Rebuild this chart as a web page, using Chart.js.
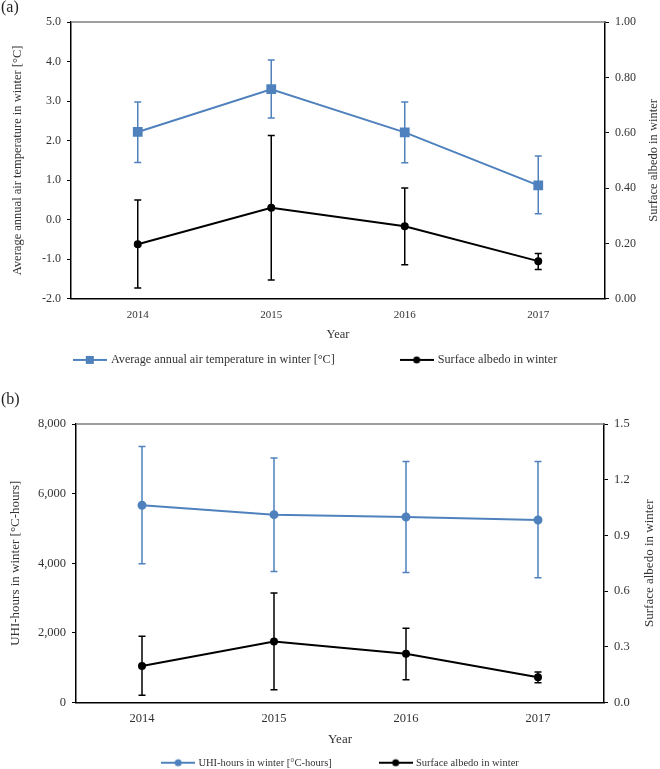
<!DOCTYPE html>
<html>
<head>
<meta charset="utf-8">
<script src="https://cdn.jsdelivr.net/npm/chart.js@4.4.0/dist/chart.umd.min.js"></script>
<style>
  body { margin: 0; background: #fff; width: 660px; height: 769px; position: relative; overflow: hidden; font-family: 'Liberation Serif', serif; }
  .panel { position: absolute; left: 0; width: 660px; }
  .tag { position: absolute; left: 1px; font-size: 16px; color: #222; }
</style>
</head>
<body>
<div class="panel" style="top:0;height:378px"><canvas id="chartA"></canvas></div>
<div class="panel" style="top:380px;height:400px"><canvas id="chartB"></canvas></div>
<div class="tag" style="top:-2px">(a)</div>
<div class="tag" style="top:390px">(b)</div>
<script>
const years = ['2014', '2015', '2016', '2017'];

// (a) average annual air temperature in winter [°C]
const tempWinter = [2.22, 3.30, 2.21, 0.87];
const tempHigh = [2.98, 4.04, 2.98, 1.61];
const tempLow = [1.45, 2.57, 1.44, 0.15];

// surface albedo in winter (same in both panels)
const albedo = [0.197, 0.329, 0.262, 0.136];
const albedoHigh = [0.357, 0.590, 0.400, 0.164];
const albedoLow = [0.039, 0.068, 0.123, 0.106];

// (b) UHI-hours in winter [°C-hours]
const uhiHours = [5666, 5396, 5330, 5243];
const uhiHigh = [7355, 7020, 6923, 6923];
const uhiLow = [3984, 3765, 3736, 3580];

const BLUE = '#4F81BD';
const TEXT = '#333333';
const SERIF = "'Liberation Serif', 'Times New Roman', serif";

// small line + marker picture for the legend
function legendMarker(color, style) {
    const c = document.createElement('canvas');
    c.width = 34; c.height = 10;
    const g = c.getContext('2d');
    g.strokeStyle = color;
    g.lineWidth = 2;
    g.beginPath(); g.moveTo(0, 5); g.lineTo(34, 5); g.stroke();
    g.fillStyle = color;
    if (style === 'rect') {
        g.fillRect(13, 1, 8, 8);
    } else {
        g.beginPath(); g.arc(17, 5, 3.5, 0, Math.PI * 2); g.fill();
    }
    return c;
}

const errorBars = {
    id: 'errorBars',
    beforeDatasetsDraw(chart) {
        const ctx = chart.ctx;
        chart.data.datasets.forEach((ds, i) => {
            if (!ds.errHigh) return;
            const meta = chart.getDatasetMeta(i);
            const scale = chart.scales[ds.yAxisID];
            ctx.save();
            ctx.strokeStyle = ds.borderColor;
            ctx.lineWidth = 1.5;
            meta.data.forEach((pt, j) => {
                const yHi = scale.getPixelForValue(ds.errHigh[j]);
                const yLo = scale.getPixelForValue(ds.errLow[j]);
                ctx.beginPath();
                ctx.moveTo(pt.x, yHi); ctx.lineTo(pt.x, yLo);
                ctx.moveTo(pt.x - 3.5, yHi); ctx.lineTo(pt.x + 3.5, yHi);
                ctx.moveTo(pt.x - 3.5, yLo); ctx.lineTo(pt.x + 3.5, yLo);
                ctx.stroke();
            });
            ctx.restore();
        });
    }
};

// top border of the plot area + right axis title reading bottom to top
const frame = {
    id: 'frame',
    afterLayout(chart, args, opts) {
        if (opts.legendShift) {
            chart.legend.left += opts.legendShift;
            chart.legend.right += opts.legendShift;
        }
    },
    afterDraw(chart, args, opts) {
        const ctx = chart.ctx;
        const a = chart.chartArea;
        ctx.save();
        ctx.strokeStyle = '#7f7f7f';
        ctx.lineWidth = 1.5;
        ctx.beginPath();
        ctx.moveTo(a.left, a.top); ctx.lineTo(a.right, a.top);
        ctx.stroke();
        ctx.translate(opts.rightTitleX, (a.top + a.bottom) / 2);
        ctx.rotate(-Math.PI / 2);
        ctx.font = opts.titleSize + 'px ' + SERIF;
        ctx.fillStyle = TEXT;
        ctx.textAlign = 'center';
        ctx.textBaseline = 'middle';
        ctx.fillText(opts.rightTitle, 0, 0);
        ctx.restore();
    }
};

function legendLabels(chart) {
    return chart.data.datasets.map((ds, i) => ({
        text: ds.label + (ds.legendGap || ''),
        pointStyle: ds.legendMarker,
        fillStyle: ds.borderColor,
        strokeStyle: ds.borderColor,
        fontColor: TEXT,
        lineWidth: 0,
        hidden: false,
        datasetIndex: i
    }));
}

function yAxis(pos, min, max, step, fmt, width, tickSize, title, titleSize, titlePad) {
    return {
        type: 'linear',
        position: pos,
        min: min,
        max: max,
        ticks: { stepSize: step, callback: fmt, color: TEXT, font: { family: SERIF, size: tickSize }, padding: 6 },
        grid: { drawOnChartArea: false, tickLength: 4, color: '#000', lineWidth: 1 },
        border: { color: '#000', width: 1.5 },
        title: title ? { display: true, text: title, color: TEXT, font: { family: SERIF, size: titleSize }, padding: titlePad } : { display: false },
        afterFit: s => { s.width = width; }
    };
}

function xAxis(tickSize, tickPad, titleSize, height) {
    return {
        type: 'category',
        offset: true,
        grid: { drawOnChartArea: false, drawTicks: false },
        border: { color: '#000', width: 1.5 },
        ticks: { color: TEXT, font: { family: SERIF, size: tickSize }, padding: tickPad },
        title: { display: true, text: 'Year', color: TEXT, font: { family: SERIF, size: titleSize }, padding: { top: 2, bottom: 0 } },
        afterFit: s => { s.height = height; }
    };
}

// ----- (a)
new Chart(document.getElementById('chartA'), {
    type: 'line',
    data: {
        labels: years,
        datasets: [{
            label: 'Average annual air temperature in winter [°C]',
            legendGap: '\u2003\u2003\u2003\u2003\u2002',
            data: tempWinter,
            errHigh: tempHigh,
            errLow: tempLow,
            yAxisID: 'y',
            borderColor: BLUE,
            backgroundColor: BLUE,
            borderWidth: 2,
            pointStyle: 'rect',
            pointRadius: 5.5,
            tension: 0,
            legendMarker: legendMarker(BLUE, 'rect')
        }, {
            label: 'Surface albedo in winter',
            data: albedo,
            errHigh: albedoHigh,
            errLow: albedoLow,
            yAxisID: 'y1',
            borderColor: '#000',
            backgroundColor: '#000',
            borderWidth: 2,
            pointRadius: 3,
            tension: 0,
            legendMarker: legendMarker('#000', 'circle')
        }]
    },
    options: {
        responsive: true,
        maintainAspectRatio: false,
        animation: false,
        layout: { padding: { top: 22, left: 0, right: 0, bottom: 2 } },
        plugins: {
            legend: {
                position: 'bottom',
                labels: { usePointStyle: true, pointStyleWidth: 30, padding: 12, color: TEXT, font: { family: SERIF, size: 12.2 }, generateLabels: legendLabels }
            },
            tooltip: { enabled: false },
            frame: { rightTitle: 'Surface albedo in winter', rightTitleX: 654, titleSize: 12.5, legendShift: -14 }
        },
        scales: {
            x: xAxis(11, 10, 12.5, 43),
            y: yAxis('left', -2, 5, 1, v => v.toFixed(1), 71, 12, 'Average annual air temperature in winter [°C]', 12.5, { top: 10, bottom: 2 }),
            y1: yAxis('right', 0, 1, 0.2, v => v.toFixed(2), 55, 12, null)
        }
    },
    plugins: [errorBars, frame]
});

// ----- (b)
new Chart(document.getElementById('chartB'), {
    type: 'line',
    data: {
        labels: years,
        datasets: [{
            label: 'UHI-hours in winter [°C-hours]',
            legendGap: '\u2003\u2003\u2003\u2002\u2009',
            data: uhiHours,
            errHigh: uhiHigh,
            errLow: uhiLow,
            yAxisID: 'y',
            borderColor: BLUE,
            backgroundColor: BLUE,
            borderWidth: 2,
            pointRadius: 3.5,
            tension: 0,
            legendMarker: legendMarker(BLUE, 'circle')
        }, {
            label: 'Surface albedo in winter',
            data: albedo,
            errHigh: albedoHigh,
            errLow: albedoLow,
            yAxisID: 'y1',
            borderColor: '#000',
            backgroundColor: '#000',
            borderWidth: 2,
            pointRadius: 3,
            tension: 0,
            legendMarker: legendMarker('#000', 'circle')
        }]
    },
    options: {
        responsive: true,
        maintainAspectRatio: false,
        animation: false,
        layout: { padding: { top: 44, left: 0, right: 0, bottom: 2 } },
        plugins: {
            legend: {
                position: 'bottom',
                labels: { usePointStyle: true, pointStyleWidth: 30, padding: 10, color: TEXT, font: { family: SERIF, size: 10.5 }, generateLabels: legendLabels }
            },
            tooltip: { enabled: false },
            frame: { rightTitle: 'Surface albedo in winter', rightTitleX: 650, titleSize: 13, legendShift: 11 }
        },
        scales: {
            x: xAxis(12.5, 9, 13, 45),
            y: yAxis('left', 0, 8000, 2000, v => v.toLocaleString('en-US'), 76, 12.5, 'UHI-hours in winter [°C-hours]', 13, { top: 8, bottom: 2 }),
            y1: yAxis('right', 0, 1.5, 0.3, v => v.toFixed(1), 56, 12.5, null)
        }
    },
    plugins: [errorBars, frame]
});
</script>
</body>
</html>
